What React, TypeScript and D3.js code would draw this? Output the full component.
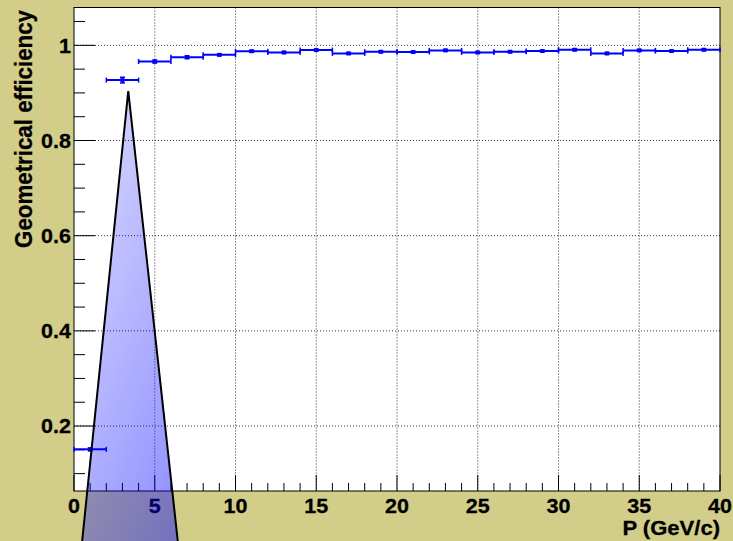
import React from "react";
import * as d3 from "d3";

// Momentum bins (lower edges, width 2 GeV/c) and efficiency per bin
const binLow = [0, 2, 4, 6, 8, 10, 12, 14, 16, 18, 20, 22, 24, 26, 28, 30, 32, 34, 36, 38];
const binWidth = 2;
const efficiency = [
  0.151, 0.927, 0.966, 0.975, 0.98, 0.9876, 0.985, 0.99, 0.983, 0.9866,
  0.986, 0.9894, 0.985, 0.9866, 0.988, 0.9908, 0.983, 0.9894, 0.988, 0.9908,
];
const efficiencyErr = [
  0.003, 0.006, 0.003, 0.003, 0.002, 0.002, 0.002, 0.002, 0.002, 0.002,
  0.002, 0.002, 0.002, 0.002, 0.002, 0.002, 0.002, 0.002, 0.002, 0.002,
];

// Overlaid triangular marker (data coordinates)
const triX = [0.39, 3.36, 6.55];
const triY = [-0.08, 0.904, -0.08];

const xMajorTicks = [0, 5, 10, 15, 20, 25, 30, 35, 40];
const xMinorTicks = d3.range(0, 41, 1);
const yMajorTicks = [0.2, 0.4, 0.6, 0.8, 1.0];
const yMinorTicks = d3.range(0.1, 1.06, 0.05);
const yTickLabels = ["0.2", "0.4", "0.6", "0.8", "1"];

const W = 733;
const H = 541;
const left = 74;
const right = 720;
const top = 7.5;
const bottom = 491;

const BG = "#d3cd8a";
const BLUE = "#0000ff";
const FONT = "'Liberation Sans', Arial, Helvetica, sans-serif";
const SX = 1.05;

export default function App() {
  const x = d3.scaleLinear().domain([0, 40]).range([left, right]);
  const y = d3.scaleLinear().domain([0.0635, 1.0795]).range([bottom, top]);

  const triPath = d3.line<number>()
    .x((i) => x(triX[i]))
    .y((i) => y(triY[i]))
    .curve(d3.curveLinearClosed)([0, 1, 2]) as string;

  return (
    <svg
      width={W}
      height={H}
      style={{ position: "fixed", left: 0, top: 0 }}
      fontFamily={FONT}
    >
      <defs>
        <linearGradient id="triFill" gradientUnits="userSpaceOnUse" x1={80} y1={100} x2={358} y2={213}>
          <stop offset="0" stopColor="#0000ff" stopOpacity={0.14} />
          <stop offset="1" stopColor="#0000ff" stopOpacity={0.5} />
        </linearGradient>
      </defs>
      <rect x={0} y={0} width={W} height={H} fill={BG} />
      <rect x={left} y={top} width={right - left} height={bottom - top} fill="#ffffff" />

      {/* grid */}
      <g stroke="#333" strokeWidth={1} strokeDasharray="1 2">
        {xMajorTicks.filter((t) => t > 0 && t < 40).map((t) => (
          <line key={"gx" + t} x1={x(t)} x2={x(t)} y1={top} y2={bottom} />
        ))}
        {yMajorTicks.map((t) => (
          <line key={"gy" + t} x1={left} x2={right} y1={y(t)} y2={y(t)} />
        ))}
      </g>

      {/* axis ticks */}
      <g stroke="#000" strokeWidth={1}>
        {xMinorTicks.map((t) => {
          const major = t % 5 === 0;
          return (
            <line key={"tx" + t} x1={x(t)} x2={x(t)} y1={bottom} y2={bottom - (major ? 16 : 8)} />
          );
        })}
        {yMinorTicks.map((t, i) => {
          const r = Math.round(t * 100) % 20;
          const major = r === 0;
          return (
            <line key={"ty" + i} x1={left} x2={left + (major ? 21 : 11)} y1={y(t)} y2={y(t)} />
          );
        })}
      </g>

      {/* frame */}
      <rect x={left} y={top} width={right - left} height={bottom - top} fill="none" stroke="#000" strokeWidth={1} />

      {/* tick labels */}
      <g fontSize={20.5} fontWeight="bold" fill="#000" stroke="#000" strokeWidth={0.3}>
        {xMajorTicks.map((t) => (
          <text key={"lx" + t} transform={`translate(${x(t)},${513}) scale(${SX},1)`} textAnchor="middle">
            {t}
          </text>
        ))}
        {yMajorTicks.map((t, i) => (
          <text key={"ly" + t} transform={`translate(${71},${y(t)}) scale(${SX},1)`} textAnchor="end" dy="0.36em">
            {yTickLabels[i]}
          </text>
        ))}
      </g>

      {/* axis titles */}
      <text
        transform={`translate(31.5,10) scale(${SX},1) rotate(-90)`}
        textAnchor="end"
        fontSize={22.3}
        fontWeight="bold"
        fill="#000"
        stroke="#000"
        strokeWidth={0.3}
      >
        Geometrical efficiency
      </text>
      <text
        transform={`translate(720,535) scale(${SX},1)`}
        textAnchor="end"
        fontSize={21}
        fontWeight="bold"
        fill="#000"
        stroke="#000"
        strokeWidth={0.3}
      >
        P (GeV/c)
      </text>

      {/* efficiency points with error bars */}
      <g stroke={BLUE} strokeWidth={2} fill={BLUE}>
        {binLow.map((lo, i) => {
          const xc = x(lo + binWidth / 2);
          const x0 = x(lo);
          const x1 = x(lo + binWidth);
          const yc = y(efficiency[i]);
          const yt = y(efficiency[i] + efficiencyErr[i]);
          const yb = y(efficiency[i] - efficiencyErr[i]);
          return (
            <g key={"p" + i}>
              <line x1={x0} x2={x1} y1={yc} y2={yc} />
              <line x1={x0} x2={x0} y1={yc - 2.5} y2={yc + 2.5} strokeWidth={1.5} />
              <line x1={x1} x2={x1} y1={yc - 2.5} y2={yc + 2.5} strokeWidth={1.5} />
              <line x1={xc} x2={xc} y1={yt} y2={yb} strokeWidth={1.5} />
              <line x1={xc - 2.5} x2={xc + 2.5} y1={yt} y2={yt} strokeWidth={1.5} />
              <line x1={xc - 2.5} x2={xc + 2.5} y1={yb} y2={yb} strokeWidth={1.5} />
              <rect x={xc - 2} y={yc - 2} width={4} height={4} stroke="none" />
            </g>
          );
        })}
      </g>

      {/* triangular overlay */}
      <path d={triPath} fill="url(#triFill)" stroke="#000" strokeWidth={2} strokeLinejoin="miter" />
    </svg>
  );
}
